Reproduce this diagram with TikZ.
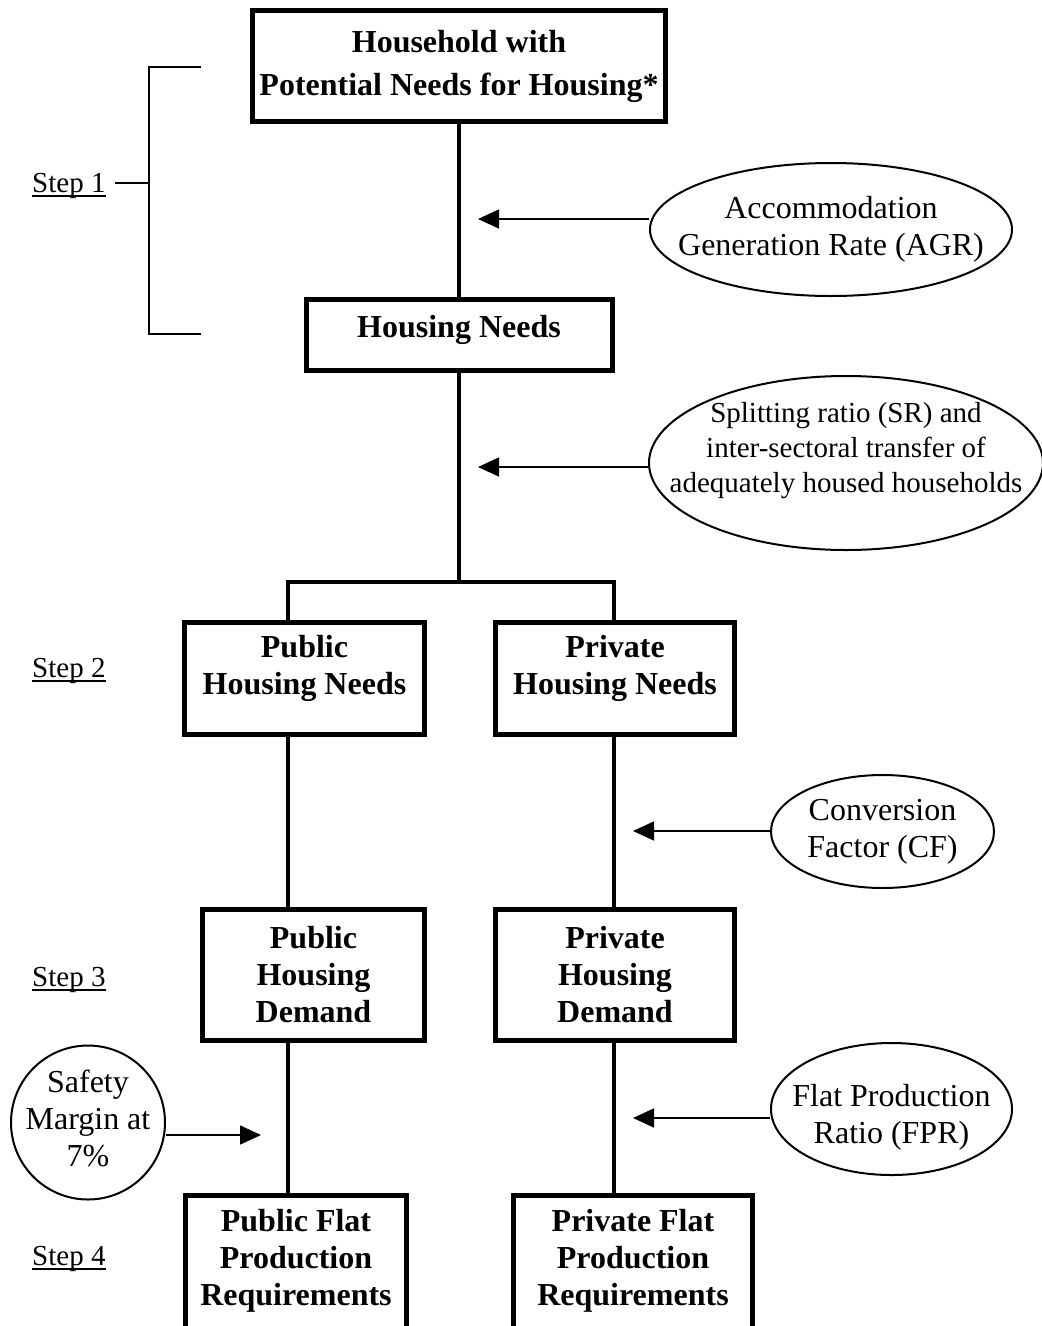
\documentclass[tikz,border=0pt]{standalone}
\usepackage{fontspec}
\setmainfont{Liberation Serif}
\usetikzlibrary{arrows.meta,shapes.geometric}

\newcommand{\inset}[1]{\makebox[0pt]{\begin{tabular}{@{}c@{}}#1\end{tabular}}}
\newcommand{\stepul}[1]{\setbox0=\hbox{#1}\rlap{\rule[-4.5pt]{\wd0}{2pt}}\box0}

\begin{document}
\begin{tikzpicture}[x=1pt, y=-1pt,
    stepbox/.style={draw, line width=5pt, inner sep=0pt, align=center,
      font=\fontsize{32}{37}\selectfont\bfseries},
    factor/.style={draw, ellipse, line width=2pt, inner sep=0pt,
      font=\fontsize{32}{37}\selectfont},
    link/.style={line width=4pt},
    feed/.style={line width=1.5pt, -{Triangle[length=21pt, width=19pt]}},
    bracket/.style={line width=2pt},
    steplabel/.style={anchor=base west, inner sep=0pt,
      font=\fontsize{29}{34}\selectfont}]
  \useasboundingbox (0,0) rectangle (1042,1326);

  % boxes
  \node[stepbox, minimum width=413pt, minimum height=111pt] (hh) at (459,66)
    {Household with\\[6pt]Potential Needs for Housing*};
  \node[stepbox, minimum width=306pt, minimum height=71pt, text depth=17pt] (hn) at (459,335)
    {Housing Needs};
  \node[stepbox, minimum width=240pt, minimum height=112pt, text depth=27pt] (pubneeds) at (304.5,678.5)
    {Public\\Housing Needs};
  \node[stepbox, minimum width=239pt, minimum height=112pt, text depth=27pt] (privneeds) at (615,678.5)
    {Private\\Housing Needs};
  \node[stepbox, minimum width=222pt, minimum height=131pt] (pubdem) at (313.5,975)
    {Public\\Housing\\Demand};
  \node[stepbox, minimum width=239pt, minimum height=131pt] (privdem) at (615,975)
    {Private\\Housing\\Demand};
  \node[stepbox, minimum width=221pt, minimum height=140pt, text depth=16pt] (pubflat) at (296,1265.5)
    {Public Flat\\Production\\Requirements};
  \node[stepbox, minimum width=239pt, minimum height=140pt, text depth=16pt] (privflat) at (633,1265.5)
    {Private Flat\\Production\\Requirements};

  % factors
  \node[factor, minimum width=362pt, minimum height=133pt] (agr) at (831,229.5)
    {\inset{Accommodation\\Generation Rate (AGR)}};
  \node[factor, minimum width=394pt, minimum height=174pt, text height=30pt, text depth=43.5pt,
    font=\fontsize{29}{35}\selectfont] (sr) at (846,463)
    {\inset{Splitting ratio (SR) and\\inter-sectoral transfer of\\adequately housed households}};
  \node[factor, minimum width=223pt, minimum height=113pt] (cf) at (882.5,831.5)
    {\inset{Conversion\\Factor (CF)}};
  \node[factor, minimum width=241pt, minimum height=132pt, text height=52pt, text depth=22pt] (fpr) at (891.5,1109)
    {\inset{Flat Production\\Ratio (FPR)}};
  \node[factor, circle, minimum size=154pt] (safety) at (88,1122.5)
    {\inset{Safety\\Margin at\\7\%}};

  % steps
  \foreach \n/\y in {1/192, 2/677, 3/986, 4/1265}
    \node[steplabel] (step\n) at (32,\y) {\stepul{Step \n}};

  \coordinate (brtop) at (201,67);
  \coordinate (brbot) at (201,334);
  \coordinate (brmid) at (149,183);
  \coordinate (brtick) at (115,183);
  \draw[bracket] (brtop) -| (brmid) |- (brbot);
  \draw[bracket] (brtick) -- (brmid);

  % links
  \coordinate (split) at (459,582);
  \coordinate (pubbus) at (288,582);
  \coordinate (privbus) at (614,582);
  \draw[link] (hh) -- (hn);
  \draw[link] (hn) -- (split);
  \draw[link] (pubneeds.north -| pubbus) |- (split) -| (privneeds.north -| privbus);
  \draw[link] (pubneeds.south -| pubbus) -- (pubdem.north -| pubbus);
  \draw[link] (pubdem.south -| pubbus) -- (pubflat.north -| pubbus);
  \draw[link] (privneeds.south -| privbus) -- (privdem.north -| privbus);
  \draw[link] (privdem.south -| privbus) -- (privflat.north -| privbus);

  % arrows
  \coordinate (agrtip) at (478,219);
  \coordinate (srtip) at (478,467);
  \coordinate (cftip) at (633,831);
  \coordinate (fprtip) at (633,1118);
  \coordinate (safetytip) at (261,1135);
  \draw[feed] (agr.west |- agrtip) -- (agrtip);
  \draw[feed] (sr.west |- srtip) -- (srtip);
  \draw[feed] (cf.west |- cftip) -- (cftip);
  \draw[feed] (fpr.west |- fprtip) -- (fprtip);
  \draw[feed] (safety.east |- safetytip) -- (safetytip);
\end{tikzpicture}
\end{document}
